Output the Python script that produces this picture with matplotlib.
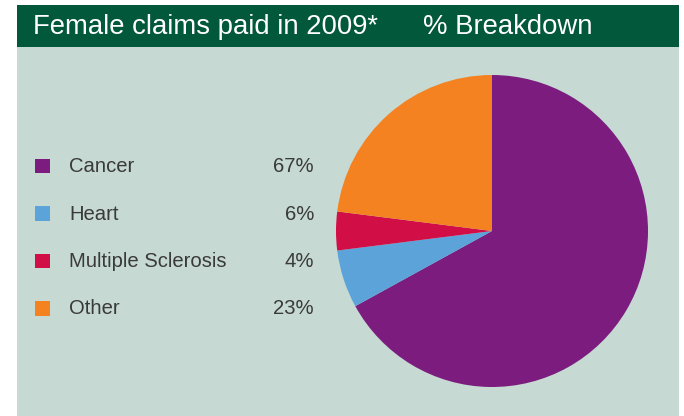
import matplotlib
matplotlib.use("Agg")
import matplotlib.pyplot as plt
from matplotlib.patches import Rectangle

categories = ["Cancer", "Heart", "Multiple Sclerosis", "Other"]
values = [67, 6, 4, 23]
colors = ["#7B1C7E", "#5BA3D9", "#D20E47", "#F58220"]
title_left = "Female claims paid in 2009*"
title_right = "% Breakdown"

W, H = 684, 416
fig = plt.figure(figsize=(W / 100, H / 100), dpi=100)
fig.patch.set_facecolor("white")

# full-figure pixel axes for background, header and legend
bg = fig.add_axes([0, 0, 1, 1])
bg.set_xlim(0, W)
bg.set_ylim(H, 0)
bg.axis("off")
bg.add_patch(Rectangle((17, 47), 662, H - 47, facecolor="#C6DAD3", edgecolor="none"))
bg.add_patch(Rectangle((17, 5), 662, 42, facecolor="#02583B", edgecolor="none"))

font = "Liberation Sans"
bg.text(33, 26.5, title_left, color="white", fontsize=19.8, family=font,
        ha="left", va="center")
bg.text(423, 26.5, title_right, color="white", fontsize=19.8, family=font,
        ha="left", va="center")

row_y0, row_dy = 166, 47.5
for i, (cat, val, col) in enumerate(zip(categories, values, colors)):
    y = row_y0 + i * row_dy
    bg.add_patch(Rectangle((35, y - 7.5), 14.5, 14.5, facecolor=col, edgecolor="none"))
    bg.text(69, y + 0.5, cat, color="#3a3a3a", fontsize=14.6, family=font,
            ha="left", va="center")
    bg.text(314, y + 0.5, f"{val}%", color="#3a3a3a", fontsize=14.6, family=font,
            ha="right", va="center")

# pie axes: centre (492, 231), radius 156 px
cx, cy, r = 492, 231, 156
ax = fig.add_axes([(cx - r) / W, (H - cy - r) / H, 2 * r / W, 2 * r / H])
ax.pie(values, colors=colors, startangle=90, counterclock=False, radius=1,
       wedgeprops=dict(linewidth=0))
ax.set_xlim(-1, 1)
ax.set_ylim(-1, 1)
ax.set_aspect("equal")
ax.axis("off")

fig.savefig("out.png", dpi=100, facecolor="white")
